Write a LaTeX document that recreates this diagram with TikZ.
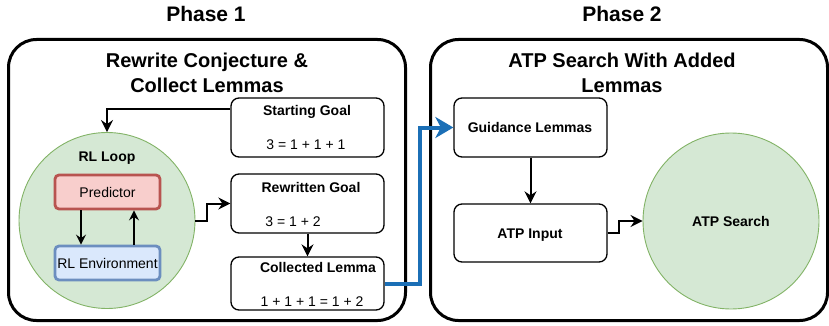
\documentclass[tikz,border=0pt]{standalone}
\usepackage{fontspec}
\setmainfont{Liberation Sans}
\usetikzlibrary{arrows.meta}
\definecolor{grfill}{HTML}{D5E8D4}
\definecolor{grline}{HTML}{82B366}
\definecolor{pkfill}{HTML}{F8CECC}
\definecolor{pkline}{HTML}{B85450}
\definecolor{blfill}{HTML}{DAE8FC}
\definecolor{blline}{HTML}{6C8EBF}
\definecolor{flow}{HTML}{1B6FB6}
\begin{document}
\begin{tikzpicture}[x=1pt,y=-1pt,
  phase/.style={font=\fontsize{21}{25}\selectfont\bfseries, anchor=base, inner sep=0pt},
  ttl/.style={font=\fontsize{20}{25}\selectfont\bfseries, anchor=base, inner sep=0pt},
  hd/.style={font=\fontsize{14}{17}\selectfont\bfseries, anchor=base, inner sep=0pt},
  eq/.style={font=\fontsize{14}{17}\selectfont, anchor=base, inner sep=0pt},
  container/.style={draw=black, line width=3pt, rounded corners=28pt, minimum width=397pt, minimum height=281pt, inner sep=0pt},
  box/.style={draw=black, line width=1.3pt, rounded corners=8pt, minimum width=153pt, minimum height=59pt, inner sep=0pt},
  loopc/.style={circle, draw=grline, fill=grfill, line width=0.9pt, minimum size=176pt, inner sep=0pt},
  arr/.style={draw=black, line width=2pt, -{Stealth[length=12pt,width=12pt,inset=4pt]}},
  sarr/.style={draw=black, line width=1.6pt, -{Stealth[length=10pt,width=10pt,inset=3.5pt]}},
  barr/.style={draw=flow, line width=4pt, -{Stealth[length=18pt,width=21pt,inset=5.5pt]}}
]
\useasboundingbox (0,0) rectangle (829,326);

% Phase titles
\node[phase] (ph1) at (206,22) {Phase 1};
\node[phase] (ph2) at (622,22) {Phase 2};

% Containers
\node[container] (c1) at (207,180) {};
\node[container] (c2) at (629,180) {};

\node[ttl] (t1a) at (207,68) {Rewrite Conjecture \&};
\node[ttl] (t1b) at (207,93) {Collect Lemmas};
\node[ttl] (t2a) at (622,68) {ATP Search With Added};
\node[ttl] (t2b) at (622,93) {Lemmas};

% Phase 1 boxes
\node[box] (sg) at (307.5,127.5) {};
\node[hd] (sgt) at (307,115) {Starting Goal};
\node[eq] (sge) at (306,149) {3 = 1 + 1 + 1};

\node[box] (rg) at (307.5,203.5) {};
\node[hd] (rgt) at (311,192) {Rewritten Goal};
\node[eq] (rge) at (293,226) {3 = 1 + 2};

\node[box, minimum height=53pt] (cl) at (307.5,283.5) {};
\node[hd] (clt) at (318,272) {Collected Lemma};
\node[eq] (cle) at (312,306) {1 + 1 + 1 = 1 + 2};

% RL loop
\node[loopc] (rl) at (107,220.5) {};
\node[hd] (rlt) at (107,161) {RL Loop};
\node[draw=pkline, fill=pkfill, line width=2.8pt, rounded corners=4pt, minimum width=105pt, minimum height=34pt, inner sep=0pt, font=\fontsize{14}{17}\selectfont] (pr) at (107.5,192) {Predictor};
\node[draw=blline, fill=blfill, line width=2.8pt, rounded corners=4pt, minimum width=105pt, minimum height=34pt, inner sep=0pt, font=\fontsize{14}{17}\selectfont] (env) at (107.5,263) {RL Environment};

\draw[sarr] ([xshift=-26.5pt]pr.south) -- ([xshift=-26.5pt]env.north);
\draw[sarr] ([xshift=26.5pt]env.north) -- ([xshift=26.5pt]pr.south);

% Phase 1 connectors
\draw[arr] ([yshift=18pt]sg.west) -| (rl.north);
\draw[arr] (rl.east) -- ++(12,0) |- (rg.west);
\draw[arr] (rg.south) -- (cl.north);

% Phase 2
\node[box] (gl) at (530.5,127.5) {};
\node[hd] (glt) at (530,132) {Guidance Lemmas};
\node[box, minimum height=58pt] (ai) at (530.5,233) {};
\node[hd] (ait) at (530,238) {ATP Input};
\node[loopc] (as) at (731,221) {};
\node[hd] (ast) at (731,226) {ATP Search};

\draw[arr] (gl.south) -- (ai.north);
\draw[arr] (ai.east) -- ++(11,0) |- (as.west);

% Blue flow
\draw[barr] (cl.east) -- ++(35,0) |- (gl.west);
\end{tikzpicture}
\end{document}
